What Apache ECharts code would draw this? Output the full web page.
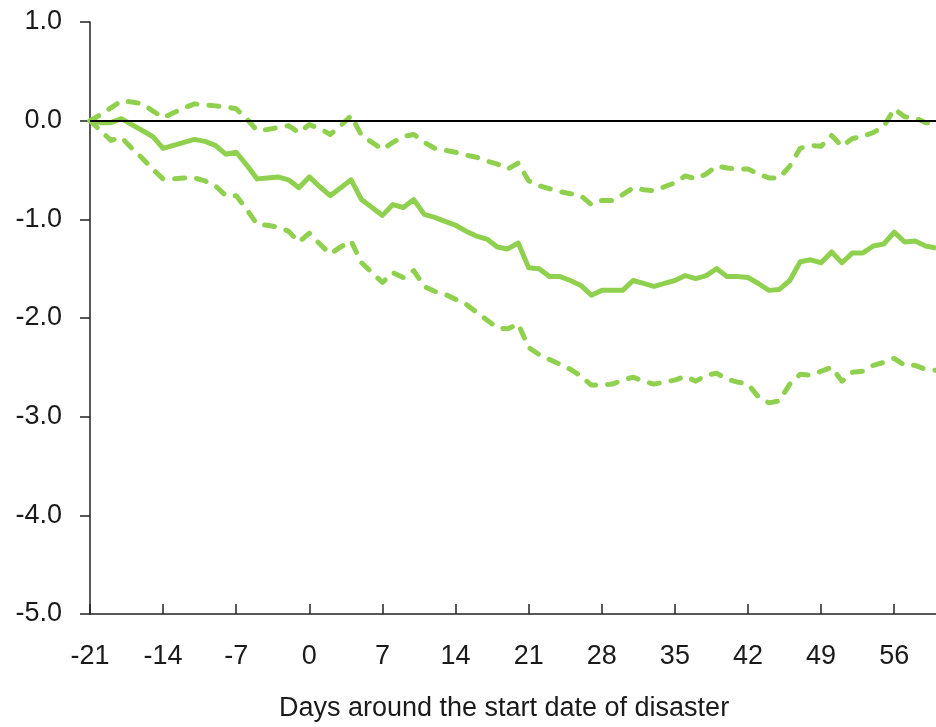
<!DOCTYPE html>
<html>
<head>
<meta charset="utf-8">
<script src="https://cdn.jsdelivr.net/npm/echarts@6/dist/echarts.min.js"></script>
<style>
html,body{margin:0;padding:0;background:#fff;}
#chart{width:936px;height:727px;}
</style>
</head>
<body>
<div id="chart"></div>
<script>
// Days around the start date of disaster
var days = [];
for (var d = -21; d <= 60; d++) days.push(d);

var xTicks = [-21, -14, -7, 0, 7, 14, 21, 28, 35, 42, 49, 56];
var yTicks = [1.0, 0.0, -1.0, -2.0, -3.0, -4.0, -5.0];

var central = [
  0.00, -0.02, -0.02, 0.02, -0.04, -0.10, -0.16, -0.28, -0.25, -0.22,
  -0.19, -0.21, -0.25, -0.34, -0.32, -0.45, -0.59, -0.58, -0.57, -0.60,
  -0.68, -0.57, -0.67, -0.76, -0.68, -0.60, -0.80, -0.88, -0.96, -0.85,
  -0.88, -0.80, -0.95, -0.98, -1.02, -1.06, -1.12, -1.17, -1.20, -1.28,
  -1.30, -1.24, -1.49, -1.50, -1.58, -1.58, -1.62, -1.67, -1.77, -1.72,
  -1.72, -1.72, -1.62, -1.65, -1.68, -1.65, -1.62, -1.57, -1.60, -1.57,
  -1.50, -1.58, -1.58, -1.59, -1.65, -1.72, -1.71, -1.62, -1.43, -1.41,
  -1.44, -1.33, -1.44, -1.34, -1.34, -1.27, -1.25, -1.13, -1.23, -1.22,
  -1.27, -1.29
];

var upper = [
  0.00, 0.06, 0.13, 0.20, 0.19, 0.17, 0.10, 0.03, 0.08, 0.13,
  0.17, 0.16, 0.15, 0.14, 0.12, 0.02, -0.10, -0.09, -0.07, -0.05,
  -0.12, -0.04, -0.08, -0.14, -0.05, 0.05, -0.15, -0.22, -0.29, -0.22,
  -0.16, -0.14, -0.22, -0.28, -0.30, -0.32, -0.35, -0.37, -0.41, -0.44,
  -0.49, -0.43, -0.61, -0.66, -0.69, -0.72, -0.74, -0.76, -0.85, -0.81,
  -0.81, -0.75, -0.68, -0.70, -0.71, -0.67, -0.63, -0.56, -0.59, -0.54,
  -0.46, -0.48, -0.49, -0.49, -0.54, -0.58, -0.58, -0.46, -0.28, -0.25,
  -0.26, -0.15, -0.26, -0.18, -0.16, -0.12, -0.06, 0.12, 0.04, 0.03,
  -0.02, -0.03
];

var lower = [
  0.00, -0.10, -0.20, -0.17, -0.28, -0.38, -0.49, -0.59, -0.59, -0.58,
  -0.58, -0.61, -0.66, -0.76, -0.76, -0.90, -1.05, -1.06, -1.08, -1.12,
  -1.23, -1.14, -1.25, -1.35, -1.28, -1.22, -1.44, -1.54, -1.64, -1.54,
  -1.59, -1.52, -1.68, -1.73, -1.76, -1.81, -1.86, -1.94, -2.02, -2.10,
  -2.11, -2.06, -2.30, -2.37, -2.42, -2.47, -2.52, -2.59, -2.68, -2.68,
  -2.67, -2.63, -2.60, -2.64, -2.67, -2.65, -2.63, -2.59, -2.64, -2.58,
  -2.56, -2.62, -2.65, -2.67, -2.80, -2.86, -2.84, -2.67, -2.57, -2.58,
  -2.54, -2.50, -2.64, -2.55, -2.54, -2.48, -2.45, -2.41, -2.48, -2.48,
  -2.52, -2.53
];

function pairs(vals) {
  return days.map(function (d, i) { return [d, vals[i]]; });
}

var GREEN = '#8FD14F';
var FONT = "'Liberation Sans Narrow', 'Liberation Sans', Arial, sans-serif";

var chart = echarts.init(document.getElementById('chart'), null, {renderer: 'canvas'});
chart.setOption({
  animation: false,
  backgroundColor: '#ffffff',
  grid: {left: 90, right: -2, top: 22, bottom: 113, containLabel: false},
  xAxis: {
    type: 'value',
    min: -21, max: 60, interval: 7,
    axisLine: {show: true, onZero: false, lineStyle: {color: '#222', width: 1.5}},
    axisTick: {show: true, inside: true, length: 10, lineStyle: {color: '#222', width: 1.5}},
    axisLabel: {
      margin: 29, color: '#1a1a1a', fontFamily: FONT, fontSize: 27,
      showMaxLabel: false,
      formatter: function (v) { return xTicks.indexOf(v) >= 0 ? String(v) : ''; }
    },
    splitLine: {show: false}
  },
  yAxis: {
    type: 'value',
    min: -5, max: 1, interval: 1,
    axisLine: {show: true, onZero: false, lineStyle: {color: '#222', width: 1.5}},
    axisTick: {show: true, inside: false, length: 10, lineStyle: {color: '#222', width: 1.5}},
    axisLabel: {
      margin: 28, color: '#1a1a1a', fontFamily: FONT, fontSize: 27,
      formatter: function (v) { return yTicks.indexOf(v) >= 0 ? v.toFixed(1) : ''; }
    },
    splitLine: {show: false}
  },
  graphic: [{
    type: 'text',
    x: 504, y: 709,
    style: {
      text: 'Days around the start date of disaster',
      font: '27px ' + FONT,
      fill: '#1a1a1a',
      align: 'center',
      verticalAlign: 'middle'
    }
  }],
  series: [
    {
      type: 'line', data: pairs(upper), showSymbol: false, symbol: 'none',
      lineStyle: {color: GREEN, width: 5, type: [10, 12], cap: 'round', join: 'round'},
      markLine: {
        silent: true, symbol: 'none', label: {show: false},
        lineStyle: {color: '#000', width: 2, type: 'solid'},
        data: [{yAxis: 0}]
      },
      z: 2
    },
    {
      type: 'line', data: pairs(lower), showSymbol: false, symbol: 'none',
      lineStyle: {color: GREEN, width: 5, type: [10, 12], cap: 'round', join: 'round'},
      z: 2
    },
    {
      type: 'line', data: pairs(central), showSymbol: false, symbol: 'none',
      lineStyle: {color: GREEN, width: 5, type: 'solid', join: 'round'},
      z: 3
    }
  ]
});
</script>
</body>
</html>
